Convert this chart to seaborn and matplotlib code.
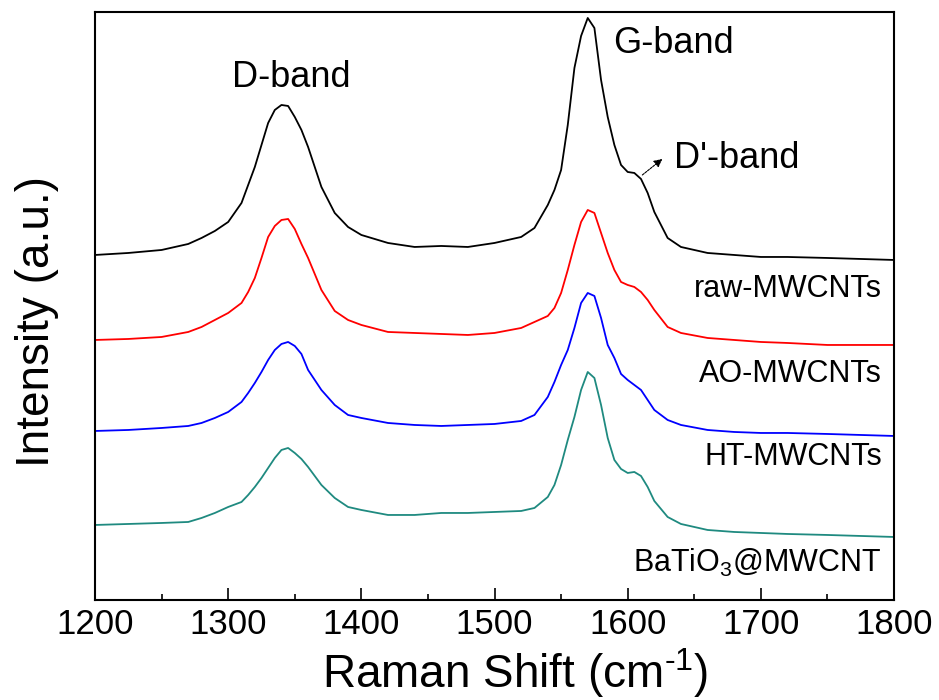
import matplotlib
matplotlib.use("Agg")
import matplotlib.pyplot as plt
import seaborn as sns
import pandas as pd

# Raman shift grid (cm^-1)
shift = [1200, 1225, 1250, 1270, 1280, 1290, 1300, 1310, 1315, 1320, 1325, 1330,
         1335, 1340, 1345, 1350, 1355, 1360, 1370, 1380, 1390, 1400, 1420, 1440,
         1460, 1480, 1500, 1520, 1530, 1540, 1545, 1550, 1555, 1560, 1565, 1570,
         1575, 1580, 1585, 1590, 1595, 1600, 1605, 1610, 1615, 1620, 1630, 1640,
         1660, 1680, 1700, 1720, 1750, 1775, 1800]

# Stacked (offset) intensities, arbitrary units
raw_mwcnts = [345, 347, 350, 356, 362, 369, 378, 397, 415, 433, 455, 477,
              490, 495, 494, 483, 470, 453, 413, 387, 373, 365, 357, 353,
              354, 353, 357, 363, 372, 395, 410, 430, 475, 532, 564, 582,
              572, 520, 483, 455, 435, 428, 427, 421, 407, 388, 362, 353,
              347, 345, 343, 343, 342, 341, 340]
ao_mwcnts = [260, 261, 263, 268, 273, 280, 287, 297, 308, 322, 342, 363,
             374, 380, 381, 371, 356, 342, 310, 289, 280, 275, 268, 267,
             266, 265, 267, 272, 278, 284, 292, 307, 330, 355, 378, 390,
             387, 367, 347, 330, 318, 315, 313, 308, 300, 290, 273, 267,
             262, 260, 258, 257, 255, 255, 255]
ht_mwcnts = [169, 170, 172, 174, 177, 182, 188, 198, 207, 217, 228, 240,
             250, 256, 258, 254, 246, 230, 210, 195, 185, 182, 177, 175,
             174, 175, 176, 179, 185, 203, 218, 235, 250, 272, 297, 307,
             304, 282, 255, 242, 226, 220, 215, 210, 200, 190, 180, 175,
             170, 168, 167, 167, 166, 165, 164]
batio3_mwcnt = [75, 76, 77, 78, 82, 87, 93, 98, 105, 113, 122, 132,
                142, 150, 152, 147, 141, 133, 115, 102, 93, 90, 85, 85,
                87, 87, 88, 89, 92, 103, 115, 135, 160, 183, 210, 228,
                222, 195, 162, 140, 131, 127, 128, 124, 113, 99, 83, 76,
                70, 68, 67, 66, 65, 64, 63]

sample_names = ["raw-MWCNTs", "AO-MWCNTs", "HT-MWCNTs", "BaTiO3@MWCNT"]
sample_labels = ["raw-MWCNTs", "AO-MWCNTs", "HT-MWCNTs", "BaTiO$_3$@MWCNT"]
line_colors = ["#000000", "#ff0000", "#0000ff", "#1f8a80"]
label_baselines = [303, 218, 135, 28]

series = [raw_mwcnts, ao_mwcnts, ht_mwcnts, batio3_mwcnt]
frames = []
for name, vals in zip(sample_names, series):
    frames.append(pd.DataFrame({"shift": shift, "intensity": vals, "sample": name}))
df = pd.concat(frames, ignore_index=True)

sns.set_theme(style="white")
plt.rcParams["font.family"] = ["Liberation Sans", "DejaVu Sans"]
plt.rcParams["mathtext.fontset"] = "custom"
plt.rcParams["mathtext.rm"] = "Liberation Sans"
plt.rcParams["mathtext.it"] = "Liberation Sans"
plt.rcParams["text.color"] = "black"
plt.rcParams["axes.labelcolor"] = "black"
plt.rcParams["xtick.color"] = "black"

fig = plt.figure(figsize=(9.39, 7.0), dpi=100)
ax = fig.add_axes([0.1012, 0.1429, 0.8509, 0.84])

sns.lineplot(data=df, x="shift", y="intensity", hue="sample",
             hue_order=sample_names, palette=line_colors, linewidth=1.3,
             legend=False, ax=ax, estimator=None, sort=True)

ax.set_xlim(1200, 1800)
ax.set_ylim(0, 588)
ax.set_xticks(range(1200, 1801, 100))
ax.set_xticks(range(1250, 1800, 100), minor=True)
ax.set_yticks([])
ax.tick_params(axis="x", which="major", direction="in", length=8.5, width=1.2,
               labelsize=25, pad=6, colors="black", bottom=True, top=False)
ax.tick_params(axis="x", which="minor", direction="in", length=4, width=1.2,
               bottom=True, top=False)
for sp in ax.spines.values():
    sp.set_visible(True)
    sp.set_color("black")
    sp.set_linewidth(1.5)

ax.set_xlabel("Raman Shift (cm$^{\\text{-}1}$)", fontsize=33, color="black")
ax.set_ylabel("Intensity (a.u.)", fontsize=33, color="black")
ax.xaxis.set_label_coords(0.5257, -0.078)
ax.yaxis.set_label_coords(-0.045, 0.473)

# Band annotations
ax.text(1347, 513, "D-band", fontsize=26, ha="center", va="baseline")
ax.text(1634, 547, "G-band", fontsize=26, ha="center", va="baseline")
ax.text(1635, 432, "D'-band", fontsize=26, ha="left", va="baseline")
ax.annotate("", xy=(1626, 441), xytext=(1611, 425),
            arrowprops=dict(arrowstyle="-|>", color="black", lw=0.8,
                            linestyle=(0, (2, 1)), mutation_scale=12,
                            shrinkA=0, shrinkB=0))

# Sample names under each spectrum
for lab, yb in zip(sample_labels, label_baselines):
    ax.text(1791, yb, lab, fontsize=22, ha="right", va="baseline")

fig.savefig("out.png", dpi=100, facecolor="white")
